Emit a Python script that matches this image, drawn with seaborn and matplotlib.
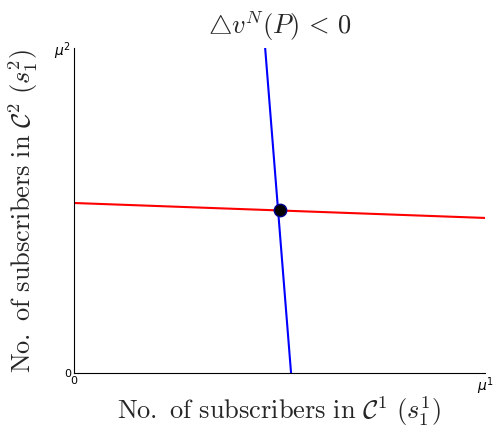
import matplotlib
matplotlib.use("Agg")
import matplotlib.pyplot as plt
import seaborn as sns
import pandas as pd

# Data (normalised: 0 .. mu)
red_x = [0.0, 1.0]
red_y = [0.523, 0.477]
blue_x = [0.465, 0.528]
blue_y = [1.0, 0.0]
pt_x = [0.5]
pt_y = [0.5]
x_ticks = [0, 1]
x_ticklabels = ["0", r"$\mu^1$"]
y_ticks = [0, 1]
y_ticklabels = ["0", r"$\mu^2$"]

sns.set_style("white")
plt.rcParams["mathtext.fontset"] = "cm"

fig = plt.figure(figsize=(4.93, 4.32), dpi=100)
ax = fig.add_axes([0.150, 0.1366, 0.834, 0.7524])

red = pd.DataFrame({"x": red_x, "y": red_y})
blue = pd.DataFrame({"x": blue_x, "y": blue_y})
pt = pd.DataFrame({"x": pt_x, "y": pt_y})

sns.lineplot(data=red, x="x", y="y", color="red", linewidth=1.5, ax=ax, sort=False)
sns.lineplot(data=blue, x="x", y="y", color="blue", linewidth=1.5, ax=ax, sort=False)
sns.scatterplot(data=pt, x="x", y="y", color="black", edgecolor="#00008b",
                s=80, linewidth=1.0, ax=ax, zorder=5)

ax.set_xlim(0, 1)
ax.set_ylim(0, 1)
ax.set_xticks(x_ticks)
ax.set_xticklabels(x_ticklabels)
ax.set_yticks(y_ticks)
ax.set_yticklabels(y_ticklabels)
for lbl in ax.get_xticklabels() + ax.get_yticklabels():
    lbl.set_math_fontfamily("dejavusans")
    lbl.set_fontsize(10 if "mu" in lbl.get_text() else 8)
ax.tick_params(direction="in", length=3, width=0.8, pad=2, colors="black")
for side in ["top", "right"]:
    ax.spines[side].set_visible(False)
for side in ["left", "bottom"]:
    ax.spines[side].set_color("black")
    ax.spines[side].set_linewidth(0.8)

ax.set_title(r"${\bigtriangleup}v^N(P)\,<\,0$", fontsize=19, pad=10)
ax.set_xlabel(r"$\mathrm{No.\ of\ subscribers\ in\ }\mathcal{C}^1\ (s_1^1)$", fontsize=19, labelpad=-2)
ax.set_ylabel(r"$\mathrm{No.\ of\ subscribers\ in\ }\mathcal{C}^2\ (s_1^2)$", fontsize=19, labelpad=10)

fig.savefig("out.png", dpi=100)
